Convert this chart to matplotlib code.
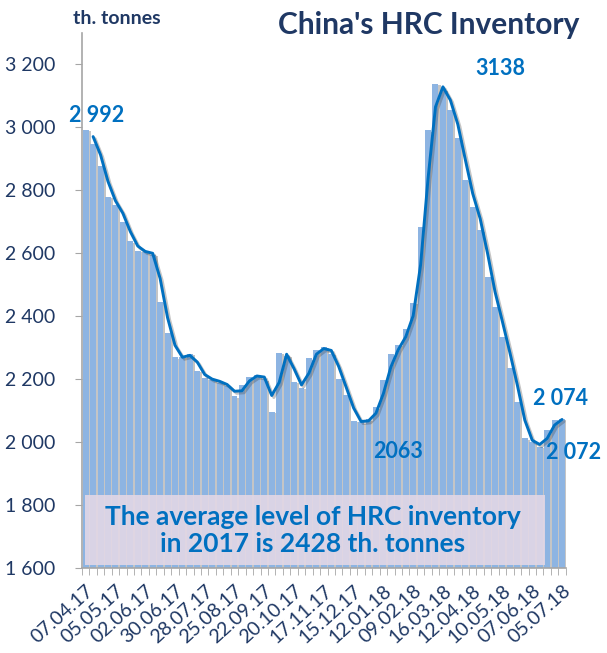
#!/usr/bin/env python3
"""Weekly HRC inventory in China with a 2-week moving average."""
import numpy as np
import pandas as pd
import matplotlib
matplotlib.use("Agg")
import matplotlib.pyplot as plt
import matplotlib.patheffects as pe
from matplotlib.patches import Rectangle
from matplotlib.ticker import FuncFormatter

# weekly stocks, th. tonnes (07.04.17 .. 05.07.18)
inventory = [2992, 2948, 2876, 2779, 2754, 2699, 2638, 2607, 2604, 2595,
             2445, 2346, 2269, 2270, 2281, 2227, 2202, 2198, 2188, 2178,
             2145, 2181, 2207, 2213, 2200, 2096, 2283, 2275, 2191, 2172,
             2266, 2292, 2302, 2280, 2200, 2149, 2068, 2063, 2072, 2111,
             2197, 2279, 2308, 2360, 2442, 2683, 2990, 3138, 3118, 3054,
             2964, 2832, 2747, 2673, 2525, 2430, 2334, 2234, 2128, 2012,
             2000, 1985, 2038, 2070, 2074]
date_labels = ["07.04.17", "05.05.17", "02.06.17", "30.06.17", "28.07.17",
               "25.08.17", "22.09.17", "20.10.17", "17.11.17", "15.12.17",
               "12.01.18", "09.02.18", "16.03.18", "12.04.18", "10.05.18",
               "07.06.18", "05.07.18"]
label_step = 4
avg_2017 = 2428

NAVY = "#1F3864"
BLUE = "#0070C0"
BAR = "#8DB4E2"
GREY = "#A6A6A6"

plt.rcParams["font.family"] = ["Lato", "DejaVu Sans"]


def spaced(v):
    return f"{int(v):,}".replace(",", " ")


def main():
    vals = np.array(inventory, dtype=float)
    x = np.arange(len(vals))
    ma = pd.Series(vals).rolling(2).mean().to_numpy()

    fig = plt.figure(figsize=(6.07, 6.53), dpi=100)
    ax = fig.add_axes([0.135, 0.130, 0.797, 0.820])

    ax.bar(x, vals, width=0.8, color=BAR, zorder=2,
           path_effects=[pe.SimplePatchShadow(offset=(1.5, -1), shadow_rgbFace="#8c8c8c", alpha=0.5),
                         pe.Normal()])
    ax.plot(x, ma, color=BLUE, lw=2.1, zorder=4, solid_capstyle="round",
            path_effects=[pe.SimpleLineShadow(offset=(1.5, -1.5), shadow_color="#404040", alpha=0.3),
                          pe.Normal()])

    ax.set_xlim(-0.5, len(vals) - 0.5)
    ax.set_ylim(1600, 3300)
    ax.set_yticks(np.arange(1600, 3201, 200))
    ax.yaxis.set_major_formatter(FuncFormatter(lambda v, p: spaced(v)))
    ax.tick_params(axis="y", colors=GREY, labelcolor=NAVY, labelsize=14, length=5,
                   direction="out", pad=14)

    ax.set_xticks(x[::label_step])
    ax.set_xticklabels(date_labels, rotation=42, ha="right", rotation_mode="anchor",
                       fontsize=14, color=NAVY)
    ax.set_xticks(np.arange(-0.5, len(vals)), minor=True)
    ax.tick_params(axis="x", which="major", length=0, pad=10)
    ax.tick_params(axis="x", which="minor", length=5, color=GREY)

    for side in ("top", "right"):
        ax.spines[side].set_visible(False)
    for side in ("left", "bottom"):
        ax.spines[side].set_color(GREY)
        ax.spines[side].set_linewidth(1.2)

    # value labels
    lab = dict(color=BLUE, fontsize=15.5, fontweight="bold", ha="center", va="center",
               textcoords="offset pixels", zorder=6)
    ax.annotate(spaced(vals[0]), (x[0], vals[0]), xytext=(11, 14), **lab)
    imax = int(np.argmax(vals))
    ax.annotate(f"{int(vals[imax])}", (x[imax], vals[imax]), xytext=(65, 15), **lab)
    imin = int(np.argmin(vals[:45]))
    ax.annotate(f"{int(vals[imin])}", (x[imin], vals[imin]), xytext=(37, -29), **lab)
    ax.annotate(spaced(vals[-1]), (x[-1], vals[-1]), xytext=(-2, 20), **lab)
    ax.annotate(spaced(ma[-1]), (x[-1], ma[-1]), xytext=(12, -33), **lab)

    # note about the 2017 average
    ax.add_patch(Rectangle((0.006, 0.005), 0.951, 0.131, transform=ax.transAxes,
                           facecolor="#E2D7E6", alpha=0.9, edgecolor="none", zorder=5))
    ax.text(0.477, 0.071, f"The average level of HRC inventory\nin 2017 is {avg_2017} th. tonnes",
            transform=ax.transAxes, ha="center", va="center", fontsize=19,
            fontweight="bold", color=BLUE, linespacing=1.15, zorder=6)

    fig.text(0.193, 0.972, "th. tonnes", ha="center", va="center", fontsize=14,
             fontweight="bold", color=NAVY)
    fig.text(0.707, 0.962, "China's HRC Inventory", ha="center", va="center", fontsize=21.5,
             fontweight="bold", color=NAVY)

    fig.savefig("out.png", dpi=100)


if __name__ == "__main__":
    main()
